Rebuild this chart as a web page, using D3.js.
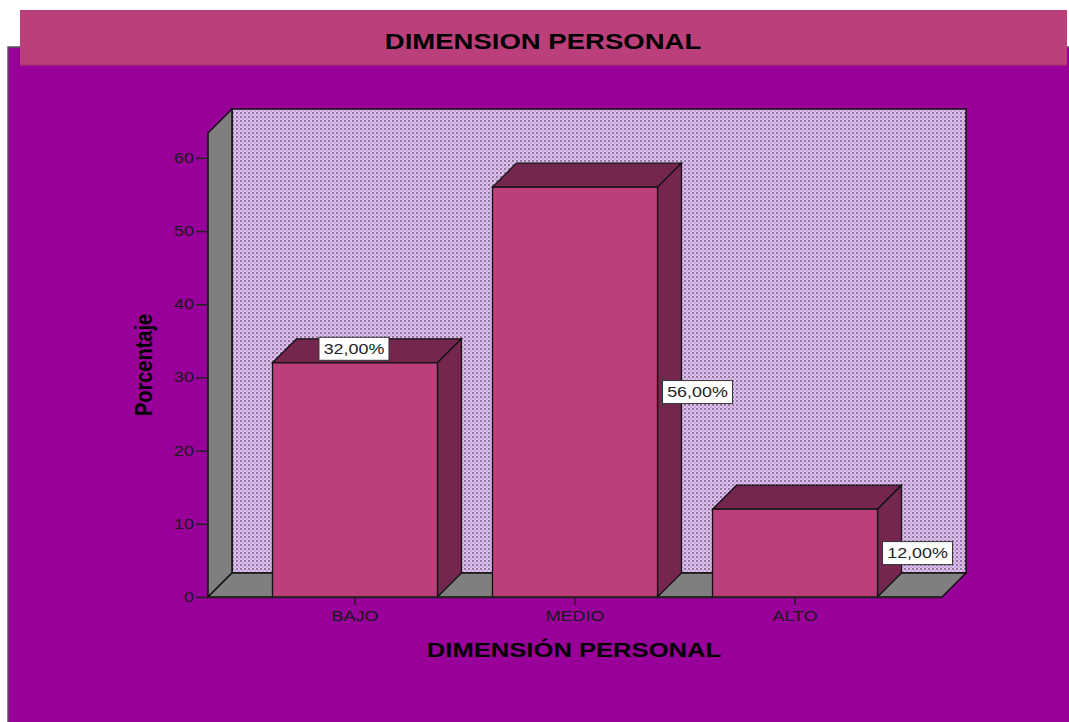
<!DOCTYPE html>
<html>
<head>
<meta charset="utf-8">
<script src="https://cdn.jsdelivr.net/npm/d3@7"></script>
<style>
  body { margin: 0; background: #fff; }
  text { font-family: "Liberation Sans", Arial, sans-serif; }
</style>
</head>
<body>
<div id="chart"></div>
<script>
var categories = ["BAJO", "MEDIO", "ALTO"];
var percentages = [32, 56, 12];
var valueLabels = ["32,00%", "56,00%", "12,00%"];
var yTicks = [0, 10, 20, 30, 40, 50, 60];
var labelPlacement = ["top", "side", "side"];

var drawChart = function() {
  var width = 1069, height = 722;
  var depth = 24;          // 3d offset of the box
  var sx = 1.28;           // text in the original is stretched sideways

  var svg = d3.select("#chart").append("svg")
    .attr("width", width)
    .attr("height", height);

  // wall pattern
  var pat = svg.append("defs").append("pattern")
    .attr("id", "dots")
    .attr("patternUnits", "userSpaceOnUse")
    .attr("width", 4).attr("height", 4);
  pat.append("rect").attr("width", 4).attr("height", 4).attr("fill", "#e0bef2");
  pat.append("rect").attr("x", 0).attr("y", 0).attr("width", 2).attr("height", 2).attr("fill", "#8c7a98");
  pat.append("rect").attr("x", 2).attr("y", 2).attr("width", 2).attr("height", 2).attr("fill", "#c9a6dc");

  // outer panel + title band
  svg.append("rect")
    .attr("x", 8).attr("y", 47).attr("width", 1080).attr("height", 700)
    .attr("fill", "#990099").attr("stroke", "#555").attr("stroke-width", 1.5);
  svg.append("rect")
    .attr("x", 20).attr("y", 10).attr("width", 1047).attr("height", 55)
    .attr("fill", "#bb3f7a");
  svg.append("line")
    .attr("x1", 20).attr("x2", 1067).attr("y1", 65).attr("y2", 65)
    .attr("stroke", "#a8306f").attr("stroke-width", 1.5);
  svg.append("text")
    .attr("transform", "translate(543,49) scale(" + sx + ",1)")
    .style("text-anchor", "middle")
    .style("font-size", "21.5px")
    .style("font-weight", "bold")
    .attr("fill", "#000")
    .text("DIMENSION PERSONAL");

  var x = d3.scaleBand()
    .domain(categories)
    .range([208, 942])
    .paddingInner(0.25)
    .paddingOuter(0.293);

  var y = d3.scaleLinear()
    .domain([0, 63.4])
    .range([597, 133]);

  var x0 = x.range()[0], x1 = x.range()[1];
  var yb = y(0), yt = y.range()[1];
  var line = d3.line();

  // back wall
  svg.append("rect")
    .attr("x", x0 + depth).attr("y", yt - depth)
    .attr("width", x1 - x0).attr("height", yb - yt)
    .attr("fill", "url(#dots)")
    .attr("stroke", "#111").attr("stroke-width", 1.5);

  // left wall
  svg.append("path")
    .attr("d", line([[x0, yb], [x0, yt], [x0 + depth, yt - depth], [x0 + depth, yb - depth]]) + "Z")
    .attr("fill", "#7f7f7f").attr("stroke", "#111").attr("stroke-width", 1.5);

  // floor
  svg.append("path")
    .attr("d", line([[x0, yb], [x1, yb], [x1 + depth, yb - depth], [x0 + depth, yb - depth]]) + "Z")
    .attr("fill", "#7f7f7f").attr("stroke", "#111").attr("stroke-width", 1.5);

  // bars
  var bars = svg.selectAll(".bar")
    .data(categories)
    .enter().append("g")
    .attr("class", "bar");

  bars.append("path")
    .attr("d", function(d, i) {
      var l = x(d), r = x(d) + x.bandwidth(), t = y(percentages[i]);
      return line([[l, t], [l + depth, t - depth], [r + depth, t - depth], [r, t]]) + "Z";
    })
    .attr("fill", "#74264f").attr("stroke", "#111").attr("stroke-width", 1.3);

  bars.append("path")
    .attr("d", function(d, i) {
      var r = x(d) + x.bandwidth(), t = y(percentages[i]);
      return line([[r, t], [r + depth, t - depth], [r + depth, yb - depth], [r, yb]]) + "Z";
    })
    .attr("fill", "#74264f").attr("stroke", "#111").attr("stroke-width", 1.3);

  bars.append("rect")
    .attr("x", function(d) { return x(d); })
    .attr("y", function(d, i) { return y(percentages[i]); })
    .attr("width", x.bandwidth())
    .attr("height", function(d, i) { return yb - y(percentages[i]); })
    .attr("fill", "#bb3f7a").attr("stroke", "#111").attr("stroke-width", 1.3);

  // y axis
  var yAxis = svg.append("g")
    .attr("transform", "translate(" + x0 + ",0)")
    .call(d3.axisLeft(y).tickValues(yTicks).tickSize(12).tickSizeOuter(0));
  yAxis.select(".domain").remove();
  yAxis.selectAll(".tick line").attr("stroke", "#222").attr("stroke-width", 1.5);
  yAxis.selectAll(".tick text")
    .attr("x", -14 / sx)
    .attr("transform", "scale(" + sx + ",1)")
    .attr("fill", "#1a1a1a")
    .style("font-size", "14px");

  // x axis
  var xAxis = svg.append("g")
    .attr("transform", "translate(0," + yb + ")")
    .call(d3.axisBottom(x).tickSize(8).tickSizeOuter(0).tickPadding(6));
  xAxis.select(".domain").attr("stroke", "#222").attr("stroke-width", 1.5);
  xAxis.selectAll(".tick line").attr("stroke", "#222").attr("stroke-width", 1.5);
  xAxis.selectAll(".tick text")
    .attr("transform", "scale(" + sx + ",1)")
    .attr("fill", "#1a1a1a")
    .style("font-size", "14px");

  // value labels
  var labels = svg.selectAll(".vlabel")
    .data(categories)
    .enter().append("g")
    .attr("class", "vlabel")
    .attr("transform", function(d, i) {
      var cx, cy;
      if (labelPlacement[i] == "top") {
        cx = x(d) + x.bandwidth() / 2 - 1;
        cy = y(percentages[i]) - 14;
      } else {
        cx = x(d) + x.bandwidth() + 5 + 35;
        cy = (y(percentages[i]) + yb) / 2;
      }
      return "translate(" + cx + "," + cy + ")";
    });
  labels.append("rect")
    .attr("x", -35).attr("y", -11.5)
    .attr("width", 70).attr("height", 23)
    .attr("fill", "#fff").attr("stroke", "#333").attr("stroke-width", 1);
  labels.append("text")
    .attr("transform", "scale(" + sx + ",1)")
    .attr("dy", "0.36em")
    .style("text-anchor", "middle")
    .style("font-size", "14px")
    .attr("fill", "#222")
    .text(function(d, i) { return valueLabels[i]; });

  // axis titles
  svg.append("text")
    .attr("transform", "translate(574,657) scale(" + sx + ",1)")
    .style("text-anchor", "middle")
    .style("font-size", "20px")
    .style("font-weight", "bold")
    .attr("fill", "#000")
    .text("DIMENSIÓN PERSONAL");

  svg.append("text")
    .attr("transform", "translate(152,365) scale(1.2,1) rotate(-90)")
    .style("text-anchor", "middle")
    .style("font-size", "20px")
    .style("font-weight", "bold")
    .attr("fill", "#000")
    .text("Porcentaje");
};

drawChart();
</script>
</body>
</html>
